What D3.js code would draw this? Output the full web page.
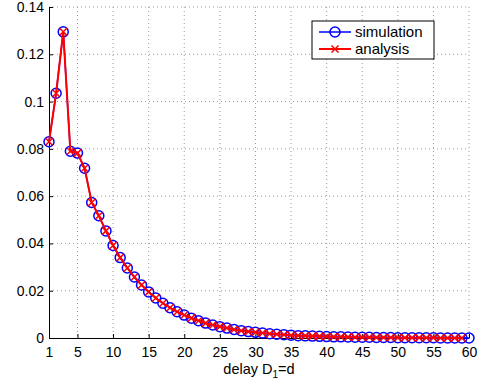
<!DOCTYPE html>
<html>
<head>
<meta charset="utf-8">
<script src="https://cdn.jsdelivr.net/npm/d3@7/dist/d3.min.js"></script>
<style>
  body { margin: 0; background: #fff; }
  svg { font-family: "Liberation Sans", Arial, sans-serif; }
</style>
</head>
<body>
<div id="chart"></div>
<script>
// delay values d
const delays = d3.range(1, 61);

// simulated probability of each delay (d = 1..60)
const simulation = [
  0.0830, 0.1035, 0.1295, 0.0790, 0.0782, 0.0718, 0.0573, 0.0517, 0.0453, 0.0391,
  0.0340, 0.0296, 0.0258, 0.0224, 0.0195, 0.0169, 0.0147, 0.0128, 0.0111, 0.0097,
  0.0084, 0.0073, 0.0063, 0.0055, 0.0048, 0.0042, 0.0036, 0.0031, 0.0027, 0.0024,
  0.0021, 0.0018, 0.0016, 0.0014, 0.0012, 0.0010, 0.0009, 0.0008, 0.0007, 0.0006,
  0.0005, 0.0005, 0.0004, 0.0003, 0.0003, 0.0003, 0.0002, 0.0002, 0.0002, 0.0001,
  0.0001, 0.0001, 0.0001, 0.0001, 0.0001, 0.0000, 0.0000, 0.0000, 0.0000, 0.0000
];

// analytical probability (d = 1..59)
const analysis = [
  0.0830, 0.1035, 0.1295, 0.0790, 0.0782, 0.0718, 0.0573, 0.0517, 0.0453, 0.0391,
  0.0340, 0.0296, 0.0258, 0.0224, 0.0195, 0.0169, 0.0147, 0.0128, 0.0111, 0.0097,
  0.0084, 0.0073, 0.0063, 0.0055, 0.0048, 0.0042, 0.0036, 0.0031, 0.0027, 0.0024,
  0.0021, 0.0018, 0.0016, 0.0014, 0.0012, 0.0010, 0.0009, 0.0008, 0.0007, 0.0006,
  0.0005, 0.0005, 0.0004, 0.0003, 0.0003, 0.0003, 0.0002, 0.0002, 0.0002, 0.0001,
  0.0001, 0.0001, 0.0001, 0.0001, 0.0001, 0.0000, 0.0000, 0.0000, 0.0000
];

const xTicks = [1, 5, 10, 15, 20, 25, 30, 35, 40, 45, 50, 55, 60];
const yTicks = [0, 0.02, 0.04, 0.06, 0.08, 0.1, 0.12, 0.14];
const seriesNames = ["simulation", "analysis"];

const W = 481, H = 381;
const margin = { top: 7, right: 12, bottom: 43, left: 49 };
const width = W - margin.left - margin.right,
      height = H - margin.top - margin.bottom;

const svg = d3.select("#chart").append("svg")
    .attr("width", W)
    .attr("height", H);

const g = svg.append("g")
    .attr("transform", `translate(${margin.left}, ${margin.top})`);

const x = d3.scaleLinear().domain([1, 60]).range([0, width]);
const y = d3.scaleLinear().domain([0, 0.14]).range([height, 0]);

// dotted grid
g.append("g").selectAll("line")
    .data(xTicks.slice(1))
    .join("line")
    .attr("x1", d => x(d)).attr("x2", d => x(d))
    .attr("y1", 0).attr("y2", height)
    .attr("stroke", "#9a9a9a").attr("stroke-width", 1)
    .attr("stroke-dasharray", "1,3");
g.append("g").selectAll("line")
    .data(yTicks.slice(1))
    .join("line")
    .attr("x1", 0).attr("x2", width)
    .attr("y1", d => y(d)).attr("y2", d => y(d))
    .attr("stroke", "#9a9a9a").attr("stroke-width", 1)
    .attr("stroke-dasharray", "1,3");

// axes (ticks point inward like matlab)
const xAxis = g.append("g")
    .attr("transform", `translate(0, ${height})`)
    .call(d3.axisBottom(x).tickValues(xTicks).tickSizeInner(-4).tickSizeOuter(0).tickPadding(9));
const yAxis = g.append("g")
    .call(d3.axisLeft(y).tickValues(yTicks).tickFormat(d => d === 0 ? "0" : d3.format("")(+d.toFixed(2))).tickSizeInner(-4).tickSizeOuter(0).tickPadding(5));

[xAxis, yAxis].forEach(a => {
  a.selectAll("text").style("font-size", "14px").attr("fill", "#000");
  a.selectAll("line").attr("stroke", "#000");
  a.select(".domain").attr("stroke", "#000").attr("stroke-width", 1);
});

// x label
const xl = svg.append("text")
    .attr("x", margin.left + width / 2)
    .attr("y", 374)
    .attr("text-anchor", "middle")
    .style("font-size", "14.5px");
xl.append("tspan").text("delay D");
xl.append("tspan").attr("dy", 4).style("font-size", "10px").text("1");
xl.append("tspan").attr("dy", -4).text("=d");

const line = d3.line().x(d => x(d[0])).y(d => y(d[1]));

const simPts = simulation.map((v, i) => [delays[i], v]);
const anaPts = analysis.map((v, i) => [delays[i], v]);

// simulation: blue with circles
g.append("path").datum(simPts)
    .attr("d", line).attr("fill", "none")
    .attr("stroke", "#0000ff").attr("stroke-width", 1.5);
g.append("g").selectAll("circle")
    .data(simPts)
    .join("circle")
    .attr("cx", d => x(d[0])).attr("cy", d => y(d[1]))
    .attr("r", 5)
    .attr("fill", "none").attr("stroke", "#0000ff").attr("stroke-width", 1.5);

// analysis: red with x marks
g.append("path").datum(anaPts)
    .attr("d", line).attr("fill", "none")
    .attr("stroke", "#ff0000").attr("stroke-width", 2);
const xm = 3.5;
g.append("g").selectAll("path")
    .data(anaPts)
    .join("path")
    .attr("d", d => {
      const cx = x(d[0]), cy = y(d[1]);
      return `M${cx - xm},${cy - xm}L${cx + xm},${cy + xm}M${cx - xm},${cy + xm}L${cx + xm},${cy - xm}`;
    })
    .attr("stroke", "#ff0000").attr("stroke-width", 1.5);

// legend
const leg = svg.append("g").attr("transform", "translate(312, 21)");
leg.append("rect")
    .attr("width", 122).attr("height", 38)
    .attr("fill", "#fff").attr("stroke", "#000").attr("stroke-width", 1);
const legColors = ["#0000ff", "#ff0000"];
seriesNames.forEach((name, i) => {
  const ly = 11 + i * 17;
  leg.append("line")
      .attr("x1", 7).attr("x2", 39).attr("y1", ly).attr("y2", ly)
      .attr("stroke", legColors[i]).attr("stroke-width", i === 0 ? 1.5 : 2);
  if (i === 0) {
    leg.append("circle").attr("cx", 23).attr("cy", ly).attr("r", 5)
        .attr("fill", "none").attr("stroke", legColors[i]).attr("stroke-width", 1.5);
  } else {
    leg.append("path")
        .attr("d", `M${23 - xm},${ly - xm}L${23 + xm},${ly + xm}M${23 - xm},${ly + xm}L${23 + xm},${ly - xm}`)
        .attr("stroke", legColors[i]).attr("stroke-width", 1.5);
  }
  leg.append("text")
      .attr("x", 43).attr("y", ly + 5)
      .style("font-size", "15px")
      .text(name);
});
</script>
</body>
</html>
